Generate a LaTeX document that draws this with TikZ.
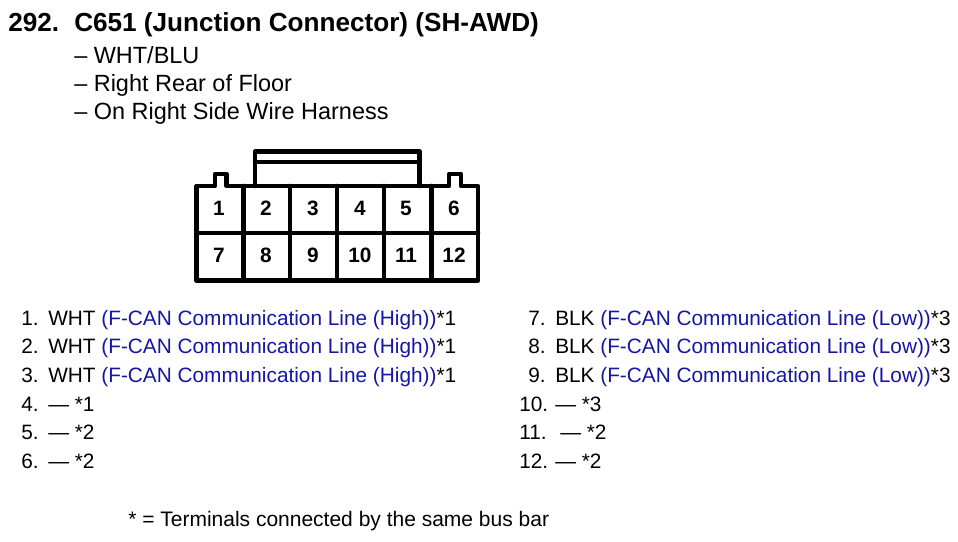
\documentclass[tikz,border=0pt]{standalone}
\usepackage{fontspec}
\setmainfont{Liberation Sans}
\definecolor{blu}{RGB}{22,22,165}
\tikzset{
 txt/.style={anchor=base west,inner sep=0pt,font=\fontsize{15.6pt}{18pt}\selectfont},
 foot/.style={anchor=base west,inner sep=0pt,font=\fontsize{15.75pt}{18pt}\selectfont},
 sub/.style={anchor=base west,inner sep=0pt,font=\fontsize{17.6pt}{20pt}\selectfont},
 ttl/.style={anchor=base west,inner sep=0pt,font=\fontsize{19.6pt}{22pt}\selectfont\bfseries},
 pin/.style={anchor=center,inner sep=0pt,font=\fontsize{15.6pt}{18pt}\selectfont\bfseries},
 wall/.style={line width=3.5pt,line join=round,line cap=round}
}
\begin{document}
\begin{tikzpicture}[x=0.75pt,y=-0.75pt]
\useasboundingbox[fill=white] (0,0) rectangle (958,542);
\node[ttl] (t1) at (8,32) {292.};
\node[ttl] (t2) at (74,32) {C651 (Junction Connector) (SH-AWD)};
\node[sub] (a1) at (74,64) {– WHT/BLU};
\node[sub] (a2) at (74,92) {– Right Rear of Floor};
\node[sub] (a3) at (74,120) {– On Right Side Wire Harness};
\draw[wall] (196.5,186) -- (215,186) -- (215,174) -- (226.5,174) -- (226.5,186) -- (449,186) -- (449,174) -- (461,174) -- (461,186) -- (478,186) -- (478,280.5) -- (196.5,280.5) -- cycle;
\draw[wall] (196.5,233) -- (478,233);
\foreach \x in {243.5,290,337,384,431.5} \draw[wall] (\x,186) -- (\x,280.5);
\draw[wall] (255,186) -- (255,151.5) -- (419.5,151.5) -- (419.5,186);
\draw[wall] (255,162) -- (419.5,162);
\foreach \n/\x in {1/219,2/266,3/313,4/360,5/406,6/454} \node[pin] (p\n) at (\x,208) {\n};
\foreach \n/\x in {7/219,8/266,9/313,10/360,11/406,12/454} \node[pin] (p\n) at (\x,255) {\n};
\foreach \n/\y in {1/325,2/353,3/382}{
 \node[txt] (l\n) at (21,\y) {\n.};
 \node[txt] (w\n) at (48,\y) {WHT \textcolor{blu}{(F-CAN Communication Line (High))}*1};
}
\node[txt] (l4) at (21,411) {4.}; \node[txt] (w4) at (48,411) {— *1};
\node[txt] (l5) at (21,439) {5.}; \node[txt] (w5) at (48,439) {— *2};
\node[txt] (l6) at (21,468) {6.}; \node[txt] (w6) at (48,468) {— *2};
\foreach \n/\y in {7/325,8/353,9/382}{
 \node[txt] (l\n) at (528,\y) {\n.};
 \node[txt] (w\n) at (555,\y) {BLK \textcolor{blu}{(F-CAN Communication Line (Low))}*3};
}
\node[txt] (l10) at (519,411) {10.}; \node[txt] (w10) at (555,411) {— *3};
\node[txt] (l11) at (519,439) {11.}; \node[txt] (w11) at (560,439) {— *2};
\node[txt] (l12) at (519,468) {12.}; \node[txt] (w12) at (555,468) {— *2};
\node[foot] (fn) at (128,526) {* = Terminals connected by the same bus bar};
\end{tikzpicture}
\end{document}
